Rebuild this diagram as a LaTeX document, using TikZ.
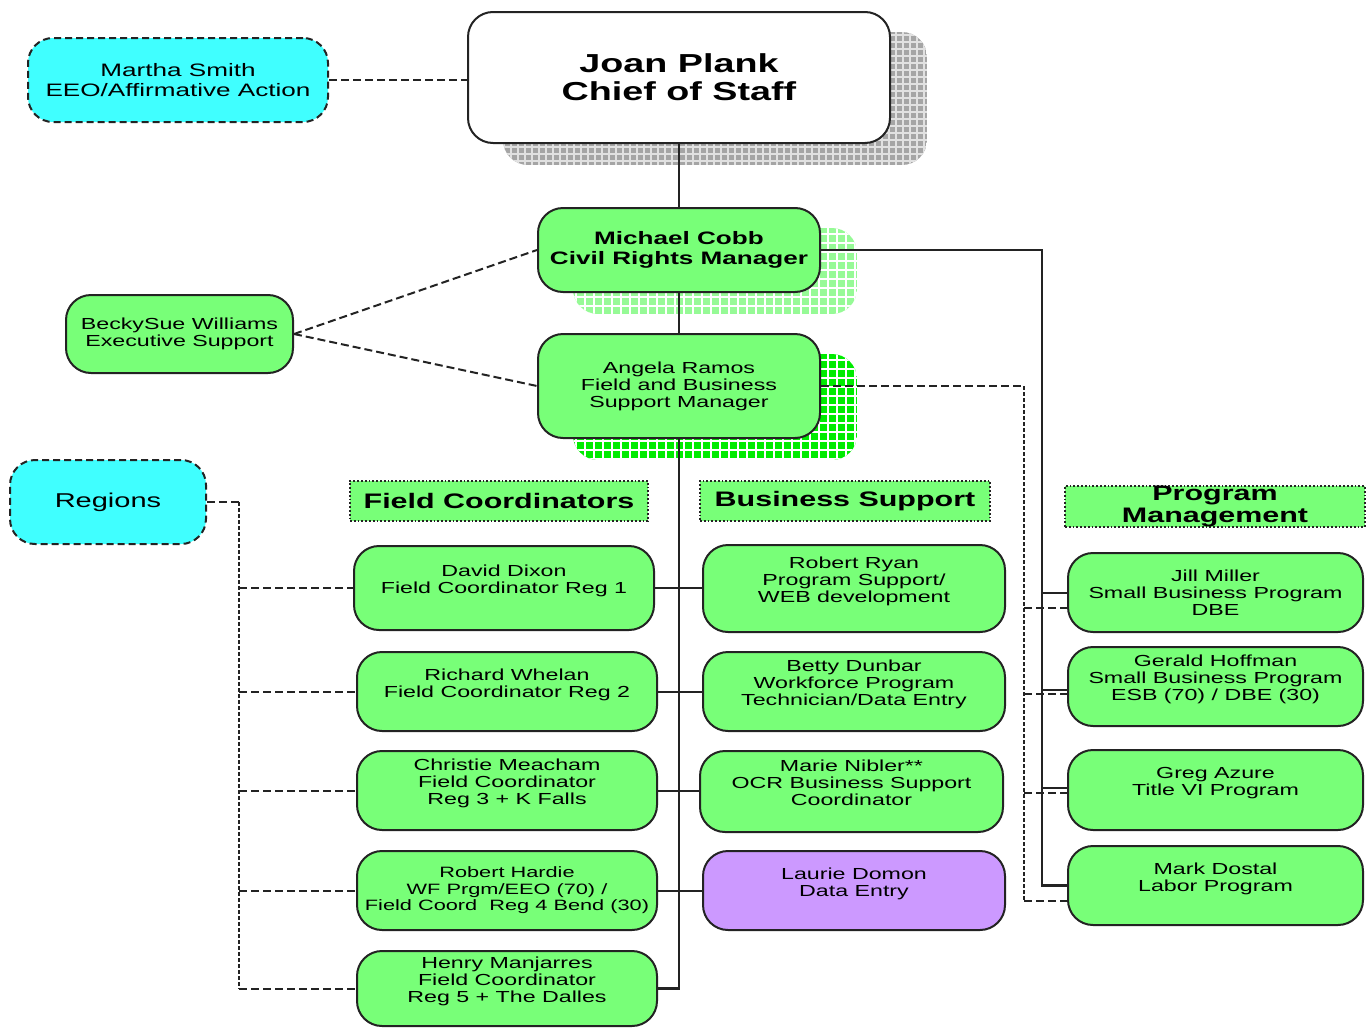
\documentclass[tikz,border=0pt]{standalone}
\usepackage{fontspec}
\setmainfont[FakeStretch=1.45]{Liberation Sans}
\usetikzlibrary{backgrounds,calc}
\definecolor{boxgreen}{RGB}{120,255,120}
\definecolor{cyanbox}{RGB}{64,255,255}
\definecolor{purplebox}{RGB}{204,153,255}
\definecolor{shgray}{RGB}{165,165,165}
\definecolor{shgraylines}{RGB}{225,225,225}
\definecolor{shpale}{RGB}{150,250,150}
\definecolor{shgreen}{RGB}{0,235,0}
\definecolor{ink}{RGB}{35,35,35}
\newcommand{\gridshadow}[4]{%
  \begin{scope}
    \clip[rounded corners=25pt] ($(#1.south west)+(36,21)$) rectangle ($(#1.north east)+(36,21)$);
    \fill[#2] ($(#1.south west)+(36,21)$) rectangle ($(#1.north east)+(36,21)$);
    \draw[#3, line width=1.6pt, step=#4] ($(#1.south west)+(36,21)$) grid ($(#1.north east)+(36,21)$);
  \end{scope}}
\begin{document}
\begin{tikzpicture}[x=1pt,y=-1pt,
  box/.style={draw=ink, line width=2pt, rounded corners=25pt, fill=boxgreen, align=center,
    inner sep=0pt, text=black, font=\fontsize{16}{17}\selectfont},
  dbox/.style={box, fill=cyanbox, dash pattern=on 7pt off 4pt},
  hdr/.style={draw=ink, line width=1.8pt, dotted, fill=boxgreen, inner sep=0pt, align=center,
    text=black, font=\bfseries\fontsize{21}{22}\selectfont},
  solidline/.style={draw=ink, line width=2.2pt},
  dline/.style={draw=ink, line width=2pt, dash pattern=on 8pt off 4pt},
  vdline/.style={draw=ink, line width=2.4pt, dash pattern=on 4pt off 2pt},
]
\useasboundingbox (0,0) rectangle (1370,1028);

% top level
\node[box, fill=white, minimum width=422pt, minimum height=131pt, font=\bfseries\fontsize{26}{28}\selectfont] (joan) at (679,77.5) {Joan Plank\\Chief of Staff};
\node[dbox, minimum width=300pt, minimum height=84pt, font=\fontsize{18}{20}\selectfont] (martha) at (178,80) {Martha Smith\\EEO/Affirmative Action};
\node[box, minimum width=282pt, minimum height=84pt, font=\bfseries\fontsize{18}{20}\selectfont] (michael) at (679,250) {Michael Cobb\\Civil Rights Manager};
\node[box, minimum width=282pt, minimum height=104pt] (angela) at (679,386) {Angela Ramos\\Field and Business\\Support Manager};
\node[box, minimum width=227pt, minimum height=78pt] (becky) at (179.5,334) {BeckySue Williams\\Executive Support};
\node[dbox, minimum width=196pt, minimum height=84pt, font=\fontsize{20}{22}\selectfont] (regions) at (108,502) {Regions};

% headers
\node[hdr, minimum width=298pt, minimum height=40pt] (hfield) at (499,501) {Field Coordinators};
\node[hdr, minimum width=290pt, minimum height=40pt] (hbus) at (845,501) {Business Support};
\node[hdr, minimum width=300pt, minimum height=41pt] (hprog) at (1215,506.5) {Program\\Management};

% field coordinators
\node[box, minimum width=300pt, minimum height=84pt] (david) at (504,588) {David Dixon\\Field Coordinator Reg 1\\\mbox{}};
\node[box, minimum width=300pt, minimum height=79pt] (richard) at (507,691.5) {Richard Whelan\\Field Coordinator Reg 2\\\mbox{}};
\node[box, minimum width=300pt, minimum height=79pt] (christie) at (507,790.5) {Christie Meacham\\Field Coordinator\\Reg 3 + K Falls\\\mbox{}};
\node[box, minimum width=300pt, minimum height=79pt, font=\fontsize{15}{16.5}\selectfont] (hardie) at (507,890.5) {Robert Hardie\\WF Prgm/EEO (70) /\\Field Coord~ Reg 4 Bend (30)};
\node[box, minimum width=300pt, minimum height=75pt] (henry) at (507,988.5) {Henry Manjarres\\Field Coordinator\\Reg 5 + The Dalles\\\mbox{}};

% business support
\node[box, minimum width=302pt, minimum height=87pt] (ryan) at (854,588.5) {Robert Ryan\\Program Support/\\WEB development\\\mbox{}};
\node[box, minimum width=302pt, minimum height=79pt] (betty) at (854,691.5) {Betty Dunbar\\Workforce Program\\Technician/Data Entry\\\mbox{}};
\node[box, minimum width=303pt, minimum height=81pt] (marie) at (851.5,791.5) {Marie Nibler**\\OCR Business Support\\Coordinator\\\mbox{}};
\node[box, fill=purplebox, minimum width=302pt, minimum height=79pt] (laurie) at (854,890.5) {Laurie Domon\\Data Entry\\\mbox{}};

% program management
\node[box, minimum width=295pt, minimum height=79pt] (jill) at (1215.5,592.5) {Jill Miller\\Small Business Program\\DBE};
\node[box, minimum width=295pt, minimum height=79pt] (gerald) at (1215.5,686.5) {Gerald Hoffman\\Small Business Program\\ESB (70) / DBE (30)\\\mbox{}};
\node[box, minimum width=295pt, minimum height=80pt] (greg) at (1215.5,790) {Greg Azure\\Title VI Program\\\mbox{}};
\node[box, minimum width=295pt, minimum height=79pt] (mark) at (1215.5,885.5) {Mark Dostal\\Labor Program\\\mbox{}};

% shadows
\begin{scope}[on background layer]
  \gridshadow{joan}{shgray}{shgraylines}{7pt}
  \gridshadow{michael}{shpale}{white}{9pt}
  \gridshadow{angela}{shgreen}{white}{9pt}
\end{scope}

% main line
\draw[dline] (martha.east) -- (martha.east -| joan.west);
\draw[solidline] (joan.south) -- (michael.north);
\draw[solidline] (michael.south) -- (angela.north);
\draw[solidline] (angela.south) -- (angela.south |- henry.east) -- (henry.east);
\draw[dline] (becky.east) -- (michael.west);
\draw[dline] (becky.east) -- (angela.west);

% regions
\coordinate (rtop) at ($(regions.east)+(32,0)$);
\draw[dline] (regions.east) -- (rtop);
\draw[vdline] (rtop) -- (rtop |- henry.west);
\foreach \n in {david,richard,christie,hardie,henry}
  \draw[dline] (rtop |- \n.west) -- (\n.west);

% field to business
\foreach \a/\b in {david/ryan,richard/betty,christie/marie,hardie/laurie}
  \draw[solidline, line width=2pt] (\a.east) -- (\a.east -| \b.west);

% program management solid
\coordinate (pbus) at ($(michael.east -| jill.west)+(-25,0)$);
\coordinate (sj) at (jill.west);
\coordinate (sg) at ($(gerald.west)+(0,3)$);
\coordinate (sr) at ($(greg.west)+(0,-2)$);
\draw[solidline] (michael.east) -- (pbus) -- (pbus |- mark.west) -- (mark.west);
\foreach \c in {sj,sg,sr}
  \draw[solidline, line width=2pt] (pbus |- \c) -- (\c);

% program management dashed
\coordinate (pdash) at ($(angela.east -| jill.west)+(-43,0)$);
\coordinate (dj) at ($(jill.west)+(0,15)$);
\coordinate (dg) at ($(gerald.west)+(0,7)$);
\coordinate (dr) at ($(greg.west)+(0,3)$);
\coordinate (dm) at ($(mark.west)+(0,15)$);
\draw[dline] (angela.east) -- (pdash);
\draw[vdline] (pdash) -- (pdash |- dm);
\foreach \c in {dj,dg,dr,dm}
  \draw[dline] (pdash |- \c) -- (\c);
\end{tikzpicture}
\end{document}
